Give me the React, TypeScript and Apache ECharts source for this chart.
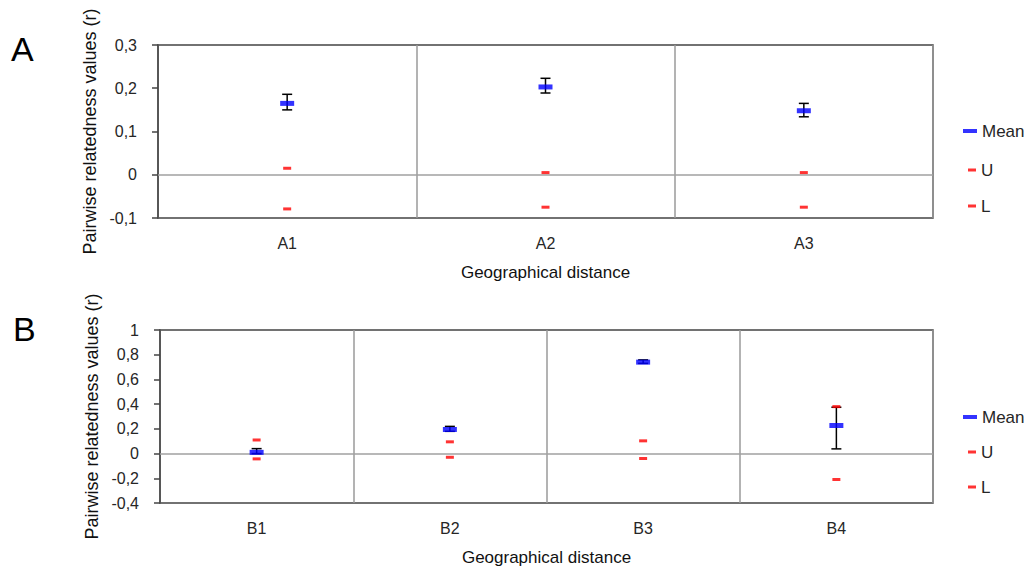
import React, { useEffect, useRef } from "react";
import * as echarts from "echarts";

// ---- Panel A data ----
const catsA = ["A1", "A2", "A3"];
const meanA = [0.165, 0.203, 0.148];
const errLowA = [0.15, 0.189, 0.134];
const errHighA = [0.186, 0.223, 0.165];
const upperA = [0.015, 0.005, 0.005];
const lowerA = [-0.079, -0.075, -0.075];
const yMinA = -0.1;
const yMaxA = 0.3;
const yStepA = 0.1;

// ---- Panel B data ----
const catsB = ["B1", "B2", "B3", "B4"];
const meanB = [0.01, 0.195, 0.74, 0.227];
const errLowB = [0.0, 0.18, 0.73, 0.038];
const errHighB = [0.04, 0.22, 0.758, 0.375];
const upperB = [0.11, 0.095, 0.103, 0.38];
const lowerB = [-0.043, -0.03, -0.04, -0.21];
const yMinB = -0.4;
const yMaxB = 1;
const yStepB = 0.2;

const panelLetters = ["A", "B"];
const yAxisName = "Pairwise relatedness values (r)";
const xAxisName = "Geographical distance";
const legendNames = ["Mean", "U", "L"];

const FONT = "'Liberation Sans', Arial, sans-serif";
const TXT = "#262626";
const BLUE = "#0000ff";
const RED = "#ff0000";

const fmt = (v: number) => {
  const r = Math.round(v * 10) / 10;
  if (r === 0) return "0";
  if (Number.isInteger(r)) return String(r);
  return r.toFixed(1).replace(".", ",");
};

const renderErr = (params: any, api: any) => {
  const x = api.value(0);
  const lo = api.coord([x, api.value(1)]);
  const hi = api.coord([x, api.value(2)]);
  const cw = 5;
  const style = { stroke: "#000", lineWidth: 1.5 };
  return {
    type: "group",
    children: [
      { type: "line", shape: { x1: lo[0], y1: lo[1], x2: hi[0], y2: hi[1] }, style },
      { type: "line", shape: { x1: lo[0] - cw, y1: lo[1], x2: lo[0] + cw, y2: lo[1] }, style },
      { type: "line", shape: { x1: hi[0] - cw, y1: hi[1], x2: hi[0] + cw, y2: hi[1] }, style },
    ],
  };
};

const legendItem = (name: string, left: number, yc: number, w: number, h: number) => ({
  data: [name],
  left,
  top: yc - 10,
  padding: 0,
  orient: "vertical",
  icon: "rect",
  itemWidth: w,
  itemHeight: h,
  selectedMode: false,
  textStyle: { fontSize: 17, color: TXT, fontFamily: FONT, lineHeight: 20 },
});

const xAxisCfg = (cats: string[], gridIndex: number) => ({
  type: "category",
  gridIndex,
  data: cats,
  axisLine: { show: false },
  axisTick: { show: false },
  axisLabel: { color: TXT, fontSize: 16, fontFamily: FONT, margin: 17 },
  splitLine: { show: true, lineStyle: { color: "#9a9a9a", width: 1.5 } },
  name: xAxisName,
  nameLocation: "middle",
  nameGap: 46,
  nameTextStyle: { color: "#111", fontSize: 17, fontFamily: FONT },
});

const yAxisCfg = (min: number, max: number, step: number, gridIndex: number) => ({
  type: "value",
  gridIndex,
  min,
  max,
  interval: step,
  axisLine: { show: true, lineStyle: { color: "#444", width: 1.5 } },
  axisTick: { show: true, length: 6, lineStyle: { color: "#444", width: 1.5 } },
  axisLabel: { color: TXT, fontSize: 16, fontFamily: FONT, margin: 21, formatter: fmt },
  splitLine: { show: false },
  name: yAxisName,
  nameLocation: "middle",
  nameGap: 57,
  nameTextStyle: { color: "#111", fontSize: 18, fontFamily: FONT },
});

const panelSeries = (
  idx: number,
  mean: number[],
  lo: number[],
  hi: number[],
  up: number[],
  low: number[]
) => [
  {
    type: "custom",
    name: "err" + idx,
    xAxisIndex: idx,
    yAxisIndex: idx,
    renderItem: renderErr,
    encode: { x: 0, y: [1, 2] },
    data: mean.map((_, i) => [i, lo[i], hi[i]]),
    z: 2,
  },
  {
    type: "scatter",
    name: legendNames[0],
    xAxisIndex: idx,
    yAxisIndex: idx,
    data: mean,
    symbol: "rect",
    symbolSize: [14, 5],
    itemStyle: { color: BLUE },
    z: 4,
  },
  {
    type: "scatter",
    name: legendNames[1],
    xAxisIndex: idx,
    yAxisIndex: idx,
    data: up,
    symbol: "rect",
    symbolSize: [8, 3],
    itemStyle: { color: RED },
    z: 3,
    markLine: {
      silent: true,
      symbol: "none",
      label: { show: false },
      lineStyle: { color: "#a0a0a0", width: 1.5, type: "solid" },
      data: [{ yAxis: 0 }],
      z: 1,
    },
  },
  {
    type: "scatter",
    name: legendNames[2],
    xAxisIndex: idx,
    yAxisIndex: idx,
    data: low,
    symbol: "rect",
    symbolSize: [8, 3],
    itemStyle: { color: RED },
    z: 3,
  },
];

export default function App() {
  const ref = useRef<HTMLDivElement>(null);
  useEffect(() => {
    document.body.style.margin = "0";
    const chart = echarts.init(ref.current!, undefined, { renderer: "svg" });
    chart.setOption({
      animation: false,
      backgroundColor: "#fff",
      textStyle: { fontFamily: FONT },
      title: [
        { text: panelLetters[0], left: 11, top: 32, padding: 0, textStyle: { fontSize: 34, fontWeight: "normal", color: "#000", fontFamily: FONT } },
        { text: panelLetters[1], left: 13, top: 312, padding: 0, textStyle: { fontSize: 34, fontWeight: "normal", color: "#000", fontFamily: FONT } },
      ],
      grid: [
        { left: 158, top: 45, width: 775, height: 173, show: true, borderColor: "#444", borderWidth: 1.5, backgroundColor: "transparent" },
        { left: 160, top: 330, width: 773, height: 173, show: true, borderColor: "#444", borderWidth: 1.5, backgroundColor: "transparent" },
      ],
      legend: [
        legendItem(legendNames[0], 963, 131, 14, 4),
        legendItem(legendNames[1], 968, 170, 8, 3),
        legendItem(legendNames[2], 968, 206, 8, 3),
        legendItem(legendNames[0], 963, 417, 14, 4),
        legendItem(legendNames[1], 968, 452, 8, 3),
        legendItem(legendNames[2], 968, 487, 8, 3),
      ],
      xAxis: [xAxisCfg(catsA, 0), xAxisCfg(catsB, 1)],
      yAxis: [yAxisCfg(yMinA, yMaxA, yStepA, 0), yAxisCfg(yMinB, yMaxB, yStepB, 1)],
      series: [
        ...panelSeries(0, meanA, errLowA, errHighA, upperA, lowerA),
        ...panelSeries(1, meanB, errLowB, errHighB, upperB, lowerB),
      ],
    });
    return () => chart.dispose();
  }, []);
  return <div ref={ref} style={{ width: 1032, height: 575 }} />;
}
